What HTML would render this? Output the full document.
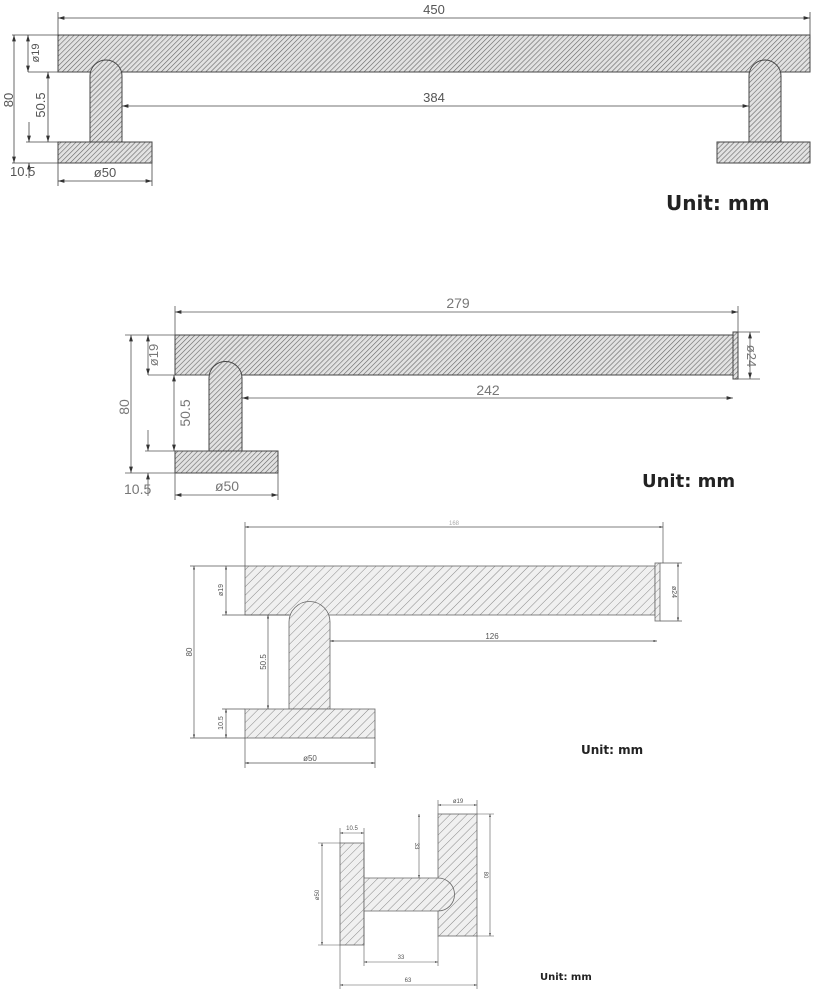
<!DOCTYPE html>
<html><head><meta charset="utf-8"><style>
html,body{margin:0;padding:0;background:#fff;}
svg{display:block;}
text{font-family:"Liberation Sans",sans-serif;fill:#555;}
.u{font-family:"DejaVu Sans","Liberation Sans",sans-serif;fill:#222;font-weight:600;}
</style></head><body>
<svg width="815" height="992" viewBox="0 0 815 992" xmlns="http://www.w3.org/2000/svg">
<defs>
<pattern id="h" width="3.5" height="3.5" patternUnits="userSpaceOnUse" patternTransform="rotate(45)">
<rect width="3.5" height="3.5" fill="#e2e2e2"/><line x1="0" y1="0" x2="0" y2="3.5" stroke="#666" stroke-width="1.2"/>
</pattern>
<pattern id="h2" width="6" height="6" patternUnits="userSpaceOnUse" patternTransform="rotate(45)">
<rect width="6" height="6" fill="#f0f0f0"/><line x1="0" y1="0" x2="0" y2="6" stroke="#888" stroke-width="1"/>
</pattern>
<marker id="a" viewBox="0 0 10 6" refX="10" refY="3" markerWidth="8" markerHeight="5" orient="auto-start-reverse"><path d="M0,0L10,3L0,6z" fill="#333"/></marker>
<marker id="b" viewBox="0 0 10 6" refX="10" refY="3" markerWidth="5" markerHeight="3" orient="auto-start-reverse"><path d="M0,0L10,3L0,6z" fill="#444"/></marker>
</defs>

<!-- Drawing 1 -->
<g stroke="#444" stroke-width="1">
<rect x="58" y="35" width="752" height="37" fill="url(#h)"/>
<path d="M90,142V76A16,16 0 0 1 122,76V142Z" fill="url(#h)"/>
<path d="M749,142V76A16,16 0 0 1 781,76V142Z" fill="url(#h)"/>
<rect x="58" y="142" width="94" height="21" fill="url(#h)"/>
<rect x="717" y="142" width="93" height="21" fill="url(#h)"/>
</g>
<g stroke="#444" stroke-width="0.8" fill="none">
<line x1="58" y1="12" x2="58" y2="35"/><line x1="810" y1="12" x2="810" y2="35"/>
<line x1="58" y1="18" x2="810" y2="18" marker-start="url(#a)" marker-end="url(#a)"/>
<line x1="122" y1="106" x2="749" y2="106" marker-start="url(#a)" marker-end="url(#a)"/>
<line x1="12" y1="35" x2="58" y2="35"/><line x1="12" y1="163" x2="58" y2="163"/>
<line x1="14" y1="35" x2="14" y2="163" marker-start="url(#a)" marker-end="url(#a)"/>
<line x1="28" y1="72" x2="58" y2="72"/>
<line x1="28" y1="35" x2="28" y2="72" marker-start="url(#a)" marker-end="url(#a)"/>
<line x1="48" y1="72" x2="48" y2="142" marker-start="url(#a)" marker-end="url(#a)"/>
<line x1="26" y1="142" x2="90" y2="142"/>
<line x1="29" y1="122" x2="29" y2="142" marker-end="url(#a)"/>
<line x1="29" y1="163" x2="29" y2="178" marker-start="url(#a)"/>
<line x1="58" y1="163" x2="58" y2="186"/><line x1="152" y1="163" x2="152" y2="186"/>
<line x1="58" y1="181" x2="152" y2="181" marker-start="url(#a)" marker-end="url(#a)"/>
</g>
<text x="434" y="14" font-size="13" text-anchor="middle">450</text>
<text x="434" y="102" font-size="13" text-anchor="middle">384</text>
<text x="105" y="177" font-size="13" text-anchor="middle">ø50</text>
<text x="10" y="176" font-size="13">10.5</text>
<text transform="translate(13,100) rotate(-90)" font-size="13" text-anchor="middle">80</text>
<text transform="translate(39,53) rotate(-90)" font-size="11" text-anchor="middle">ø19</text>
<text transform="translate(45,105) rotate(-90)" font-size="13" text-anchor="middle">50.5</text>
<text class="u" x="666" y="210" font-size="20">Unit: mm</text>

<!-- Drawing 2 -->
<g stroke="#444" stroke-width="1">
<rect x="175" y="335" width="558" height="40" fill="url(#h)"/>
<rect x="733" y="332" width="5" height="47" fill="url(#h)"/>
<path d="M209,451V378A16.5,16.5 0 0 1 242,378V451Z" fill="url(#h)"/>
<rect x="175" y="451" width="103" height="22" fill="url(#h)"/>
</g>
<g stroke="#555" stroke-width="0.8" fill="none">
<line x1="175" y1="306" x2="175" y2="335"/><line x1="738" y1="306" x2="738" y2="332"/>
<line x1="175" y1="312" x2="738" y2="312" marker-start="url(#a)" marker-end="url(#a)"/>
<line x1="738" y1="332" x2="760" y2="332"/><line x1="738" y1="379" x2="760" y2="379"/>
<line x1="750" y1="332" x2="750" y2="379" marker-start="url(#a)" marker-end="url(#a)"/>
<line x1="242" y1="398" x2="733" y2="398" marker-start="url(#a)" marker-end="url(#a)"/>
<line x1="125" y1="335" x2="175" y2="335"/><line x1="125" y1="473" x2="175" y2="473"/>
<line x1="131" y1="335" x2="131" y2="473" marker-start="url(#a)" marker-end="url(#a)"/>
<line x1="148" y1="375" x2="209" y2="375"/>
<line x1="148" y1="335" x2="148" y2="375" marker-start="url(#a)" marker-end="url(#a)"/>
<line x1="174" y1="375" x2="174" y2="451" marker-start="url(#a)" marker-end="url(#a)"/>
<line x1="145" y1="451" x2="209" y2="451"/>
<line x1="148" y1="430" x2="148" y2="451" marker-end="url(#a)"/>
<line x1="148" y1="473" x2="148" y2="496" marker-start="url(#a)"/>
<line x1="175" y1="473" x2="175" y2="500"/><line x1="278" y1="473" x2="278" y2="500"/>
<line x1="175" y1="495" x2="278" y2="495" marker-start="url(#a)" marker-end="url(#a)"/>
</g>
<text x="458" y="308" font-size="14" text-anchor="middle" style="fill:#777">279</text>
<text x="488" y="395" font-size="14" text-anchor="middle" style="fill:#777">242</text>
<text x="227" y="491" font-size="14" text-anchor="middle" style="fill:#777">ø50</text>
<text x="124" y="494" font-size="14" style="fill:#777">10.5</text>
<text transform="translate(129,407) rotate(-90)" font-size="14" text-anchor="middle" style="fill:#777">80</text>
<text transform="translate(158,355) rotate(-90)" font-size="13" text-anchor="middle" style="fill:#777">ø19</text>
<text transform="translate(190,413) rotate(-90)" font-size="14" text-anchor="middle" style="fill:#777">50.5</text>
<text transform="translate(747,356) rotate(90)" font-size="13" text-anchor="middle" style="fill:#777">ø24</text>
<text class="u" x="642" y="487" font-size="18">Unit: mm</text>

<!-- Drawing 3 -->
<g stroke="#666" stroke-width="0.8">
<rect x="245" y="566" width="410" height="49" fill="url(#h2)"/>
<rect x="655" y="563" width="5" height="58" fill="url(#h2)"/>
<path d="M289,709V622A20.5,20.5 0 0 1 330,622V709Z" fill="url(#h2)"/>
<rect x="245" y="709" width="130" height="29" fill="url(#h2)"/>
</g>
<g stroke="#555" stroke-width="0.7" fill="none">
<line x1="245" y1="522" x2="245" y2="566"/><line x1="663" y1="522" x2="663" y2="563"/>
<line x1="245" y1="527" x2="663" y2="527" marker-start="url(#b)" marker-end="url(#b)"/>
<line x1="660" y1="563" x2="682" y2="563"/><line x1="660" y1="621" x2="682" y2="621"/>
<line x1="678" y1="563" x2="678" y2="621" marker-start="url(#b)" marker-end="url(#b)"/>
<line x1="330" y1="641" x2="657" y2="641" marker-start="url(#b)" marker-end="url(#b)"/>
<line x1="190" y1="566" x2="245" y2="566"/><line x1="190" y1="738" x2="245" y2="738"/>
<line x1="194" y1="566" x2="194" y2="738" marker-start="url(#b)" marker-end="url(#b)"/>
<line x1="222" y1="615" x2="289" y2="615"/>
<line x1="226" y1="566" x2="226" y2="615" marker-start="url(#b)" marker-end="url(#b)"/>
<line x1="268" y1="615" x2="268" y2="709" marker-start="url(#b)" marker-end="url(#b)"/>
<line x1="222" y1="709" x2="245" y2="709"/>
<line x1="226" y1="709" x2="226" y2="738" marker-start="url(#b)" marker-end="url(#b)"/>
<line x1="245" y1="738" x2="245" y2="768"/><line x1="375" y1="738" x2="375" y2="768"/>
<line x1="245" y1="763" x2="375" y2="763" marker-start="url(#b)" marker-end="url(#b)"/>
</g>
<text x="454" y="525" font-size="6" text-anchor="middle" style="fill:#aaa">168</text>
<text x="492" y="639" font-size="8" text-anchor="middle">126</text>
<text x="310" y="761" font-size="8" text-anchor="middle">ø50</text>
<text transform="translate(192,652) rotate(-90)" font-size="8" text-anchor="middle">80</text>
<text transform="translate(223,590) rotate(-90)" font-size="7" text-anchor="middle">ø19</text>
<text transform="translate(266,662) rotate(-90)" font-size="8" text-anchor="middle">50.5</text>
<text transform="translate(223,723) rotate(-90)" font-size="7" text-anchor="middle">10.5</text>
<text transform="translate(672,592) rotate(90)" font-size="7" text-anchor="middle">ø24</text>
<text class="u" x="581" y="754" font-size="12">Unit: mm</text>

<!-- Drawing 4 -->
<g stroke="#666" stroke-width="0.8">
<rect x="340" y="843" width="24" height="102" fill="url(#h2)"/>
<rect x="438" y="814" width="39" height="122" fill="url(#h2)"/>
<path d="M364,878H438A16.5,16.5 0 0 1 438,911H364Z" fill="url(#h2)"/>
</g>
<g stroke="#555" stroke-width="0.6" fill="none">
<line x1="340" y1="828" x2="340" y2="843"/><line x1="364" y1="828" x2="364" y2="878"/>
<line x1="340" y1="833" x2="364" y2="833" marker-start="url(#b)" marker-end="url(#b)"/>
<line x1="438" y1="800" x2="438" y2="814"/><line x1="477" y1="800" x2="477" y2="814"/>
<line x1="438" y1="805" x2="477" y2="805" marker-start="url(#b)" marker-end="url(#b)"/>
<line x1="477" y1="814" x2="494" y2="814"/><line x1="477" y1="936" x2="494" y2="936"/>
<line x1="490" y1="814" x2="490" y2="936" marker-start="url(#b)" marker-end="url(#b)"/>
<line x1="318" y1="843" x2="340" y2="843"/><line x1="318" y1="945" x2="340" y2="945"/>
<line x1="322" y1="843" x2="322" y2="945" marker-start="url(#b)" marker-end="url(#b)"/>
<line x1="419" y1="814" x2="419" y2="878" marker-start="url(#b)" marker-end="url(#b)"/>
<line x1="364" y1="911" x2="364" y2="966"/><line x1="438" y1="936" x2="438" y2="966"/>
<line x1="364" y1="962" x2="438" y2="962" marker-start="url(#b)" marker-end="url(#b)"/>
<line x1="340" y1="945" x2="340" y2="989"/><line x1="477" y1="936" x2="477" y2="989"/>
<line x1="340" y1="985" x2="477" y2="985" marker-start="url(#b)" marker-end="url(#b)"/>
</g>
<text x="352" y="830" font-size="6" text-anchor="middle">10.5</text>
<text x="458" y="803" font-size="6" text-anchor="middle">ø19</text>
<text x="401" y="959" font-size="6" text-anchor="middle">33</text>
<text x="408" y="982" font-size="6" text-anchor="middle">63</text>
<text transform="translate(319,895) rotate(-90)" font-size="6" text-anchor="middle">ø50</text>
<text transform="translate(415,846) rotate(90)" font-size="6" text-anchor="middle">33</text>
<text transform="translate(484,875) rotate(90)" font-size="6" text-anchor="middle">80</text>
<text class="u" x="540" y="980" font-size="10">Unit: mm</text>
</svg>
</body></html>
